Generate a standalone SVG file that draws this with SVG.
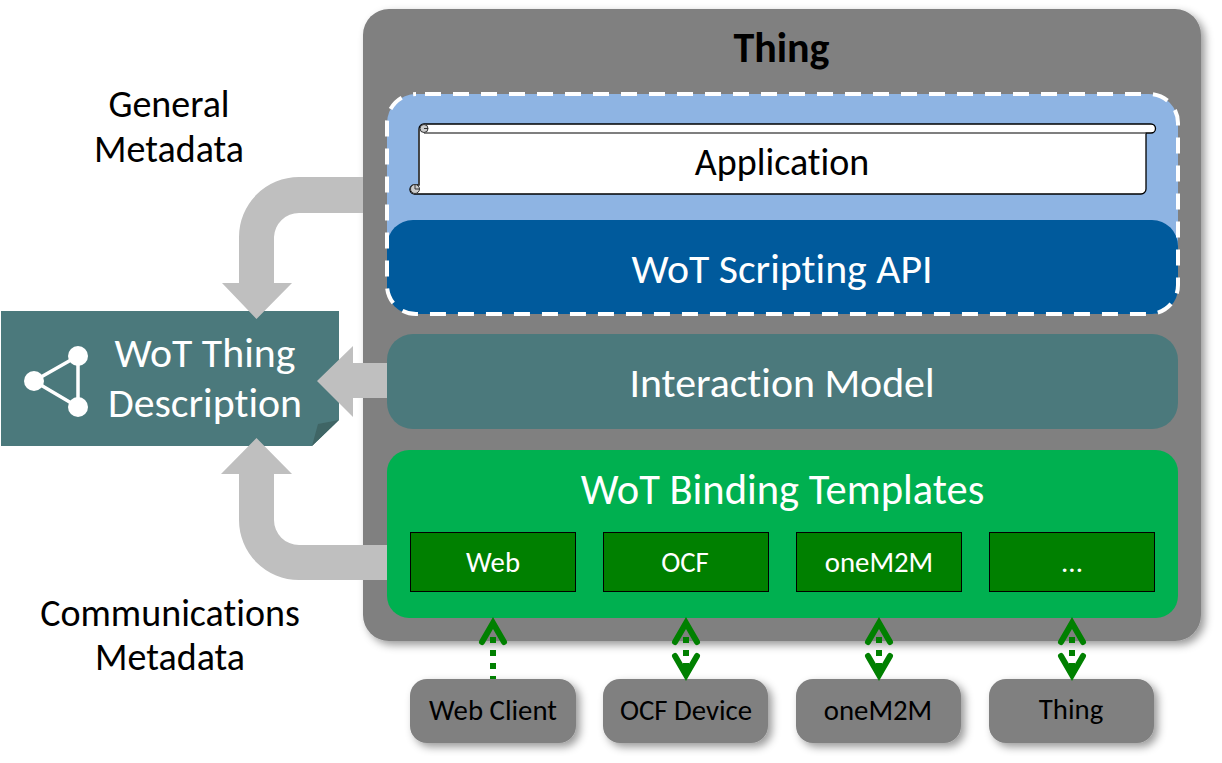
<svg xmlns="http://www.w3.org/2000/svg" width="1222" height="763" viewBox="0 0 1222 763">
<style>
text{font-family:Carlito,Lato,"Liberation Sans",sans-serif;text-anchor:middle;font-variant-ligatures:none}
.w{fill:#fff}.k{fill:#000}
.bar{font-size:41.800px}
.proto{font-size:28.800px;fill:#fff}
.side{font-size:38px;fill:#000}
.peer{font-size:28.800px;fill:#000}
.inner{fill:#008000;stroke:#000;stroke-width:1}
.peerbox{fill:#808080;filter:url(#sh)}
.chev{fill:none;stroke:#008000;stroke-width:6;stroke-linecap:round;stroke-linejoin:miter}
.dot{fill:none;stroke:#008000;stroke-width:6;stroke-dasharray:6 7}
.gray{fill:#bfbfbf}
.curl{fill:#ccc;stroke:#333;stroke-width:1}
</style>
<defs>
<filter id="sh" x="-10%" y="-10%" width="125%" height="130%"><feDropShadow dx="4" dy="4" stdDeviation="4" flood-color="#000" flood-opacity="0.4"/></filter>
</defs>
<g id="thing">
<rect x="363" y="9" width="838" height="632" rx="26" fill="#808080" filter="url(#sh)"/>
<text x="781.500" y="62" font-size="42" font-weight="700" class="k">Thing</text>
</g>
<g id="application-layer">
<rect x="387" y="94" width="791" height="220" rx="29" fill="#8eb4e3"/>
</g>
<g id="application">
<path d="M424 124H1151a4.500 4.500 0 0 1 0 9H1146V189a5 5 0 0 1-5 5H415a4.500 4.500 0 0 1 -1-9H419V129a5 5 0 0 1 5-5Z" fill="#fff" stroke="#000" stroke-width="1.300"/>
<path d="M424 133H1146" stroke="#555" stroke-width="1.300" fill="none"/>
<path d="M419 129V185" stroke="#444" stroke-width="1.500" fill="none"/>
<circle cx="424" cy="128.500" r="4" class="curl"/><path d="M424 128.500h4" stroke="#333" fill="none"/>
<circle cx="415" cy="189" r="4.500" class="curl"/><path d="M415 189h4M415 189v-4" stroke="#333" fill="none"/>
<text x="782" y="175" font-size="38" class="k">Application</text>
</g>
<g id="scripting-api">
<rect x="387" y="220" width="791" height="94" rx="26" fill="#005a9c"/>
<text x="782" y="283" class="bar w">WoT Scripting API</text>
<rect x="387" y="94" width="791" height="220" rx="29" fill="none" stroke="#fff" stroke-width="4" stroke-dasharray="16 12" stroke-dashoffset="19"/>
</g>
<g id="interaction-model">
<rect x="387" y="334" width="791" height="95" rx="26" fill="#4b797c"/>
<text x="782" y="397" class="bar w">Interaction Model</text>
</g>
<g id="binding-templates">
<rect x="387" y="450" width="791" height="168" rx="22" fill="#00b050"/>
<text x="782.500" y="504" font-size="42.500" class="w">WoT Binding Templates</text>
</g>
<g id="web"><rect class="inner" x="410.500" y="532.500" width="165" height="59"/><text x="493" y="572" class="proto">Web</text></g>
<g id="ocf"><rect class="inner" x="603.500" y="532.500" width="165" height="59"/><text x="685" y="572" class="proto">OCF</text></g>
<g id="onem2m"><rect class="inner" x="796.500" y="532.500" width="165" height="59"/><text x="879" y="572" class="proto">oneM2M</text></g>
<g id="more"><rect class="inner" x="989.500" y="532.500" width="165" height="59"/><text x="1072" y="572" class="proto">...</text></g>
<g id="web-client"><rect class="peerbox" x="410" y="679" width="166" height="64" rx="17"/><text x="493" y="720" class="peer">Web Client</text></g>
<g id="ocf-device"><rect class="peerbox" x="603" y="679" width="165" height="64" rx="17"/><text x="686" y="720" class="peer">OCF Device</text></g>
<g id="onem2m-peer"><rect class="peerbox" x="796" y="679" width="165" height="64" rx="17"/><text x="878" y="720" class="peer">oneM2M</text></g>
<g id="thing-peer"><rect class="peerbox" x="989" y="679" width="165" height="64" rx="17"/><text x="1071" y="719" class="peer">Thing</text></g>
<g id="thing-description">
<path d="M1 311H339V420L312 446H1Z" fill="#4b797c"/>
<path d="M339 420L318 424 312 446Z" fill="#3f6565"/>
<g stroke="#fff" stroke-width="3.500"><path d="M34 381L78 356V407Z" fill="none"/></g>
<circle cx="34" cy="381" r="10" class="w"/><circle cx="78" cy="356" r="10" class="w"/><circle cx="78" cy="407" r="10" class="w"/>
<text x="205" y="367" font-size="41.800" class="w">WoT Thing</text>
<text x="205" y="417" font-size="41.800" class="w">Description</text>
</g>
<g id="connectors">
<path class="gray" d="M363 177H299A60 60 0 0 0 239 237V283H222L256.500 319 292 283H274V237A25 25 0 0 1 299 213H363Z"/>
<path class="gray" d="M387 363H353V346L317 381 353 417V398H387Z"/>
<path class="gray" d="M387 545H299A25 25 0 0 1 274 520V474H292L256.500 438 221 474H239V520A60 60 0 0 0 299 580H387Z"/>
<path class="dot" d="M493 637V679"/><path class="chev" d="M482 642L493 623 504 642"/>
<path class="dot" d="M686 637V670"/><path class="chev" d="M675 642L686 623 697 642M675 656L686 675 697 656"/>
<path class="dot" d="M879 637V670"/><path class="chev" d="M868 642L879 623 890 642M868 656L879 675 890 656"/>
<path class="dot" d="M1072 637V670"/><path class="chev" d="M1061 642L1072 623 1083 642M1061 656L1072 675 1083 656"/>
</g>
<g id="labels">
<text x="169" y="117" class="side">General</text>
<text x="169" y="162" class="side">Metadata</text>
<text x="170" y="626" class="side">Communications</text>
<text x="170" y="670" class="side">Metadata</text>
</g>
</svg>
